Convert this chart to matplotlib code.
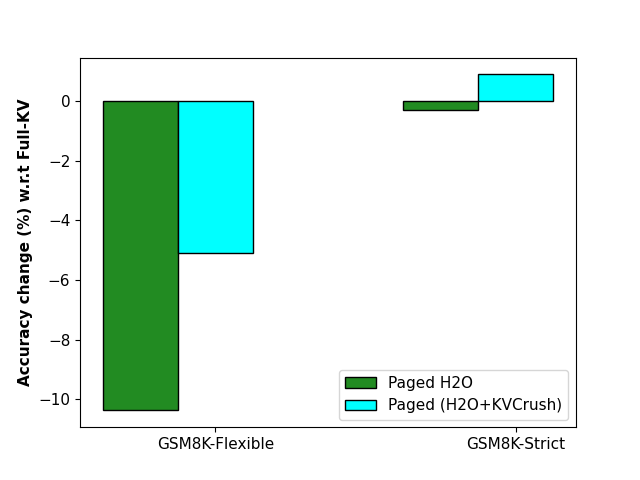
import numpy as np
import matplotlib
matplotlib.use("Agg")
import matplotlib.pyplot as plt

tasks = ["GSM8K-Flexible", "GSM8K-Strict"]
paged_h2o = [-10.37, -0.30]
paged_h2o_kvcrush = [-5.10, 0.90]

x = np.arange(len(tasks))
width = 0.25

fig, ax = plt.subplots(figsize=(6.4, 4.8), dpi=100)
ax.bar(x - width, paged_h2o, width, color="forestgreen", edgecolor="black", label="Paged H2O")
ax.bar(x, paged_h2o_kvcrush, width, color="cyan", edgecolor="black", label="Paged (H2O+KVCrush)")
ax.set_xticks(x)
ax.set_xticklabels(tasks, fontsize=11)
ax.tick_params(axis="y", labelsize=11)
ax.set_ylabel("Accuracy change (%) w.r.t Full-KV", fontsize=11, fontweight="bold")
ax.legend(loc="lower right", fontsize=11)
fig.savefig("out.png")
